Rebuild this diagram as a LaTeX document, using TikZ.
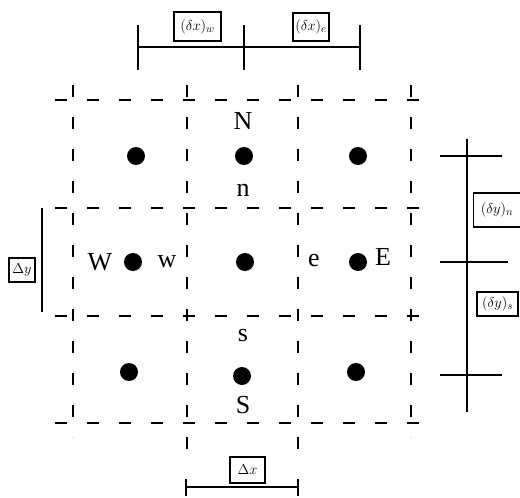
\documentclass[tikz,border=0pt]{standalone}
\usepackage{fontspec}
\setmainfont{Liberation Serif}
\usetikzlibrary{calc}
\begin{document}
\begin{tikzpicture}[x=1pt,y=-1pt,
  dot/.style={circle,fill=black,inner sep=0pt,minimum size=18pt},
  lbl/.style={font=\fontsize{26}{26}\selectfont,inner sep=0pt},
  gridline/.style={dash pattern=on 12pt off 20pt,line width=1.5pt},
  dim/.style={line width=1.8pt},
  dbox/.style={draw,line width=1.5pt,inner sep=0pt,font=\fontsize{15}{15}\selectfont},
]
\useasboundingbox (0,0) rectangle (520,498);
% grid coordinates
\coordinate (v1t) at (73,85);  \coordinate (v1b) at (73,437);
\coordinate (v2t) at (187,85); \coordinate (v2b) at (187,460);
\coordinate (v3t) at (298,85); \coordinate (v3b) at (298,460);
\coordinate (v4t) at (411,85); \coordinate (v4b) at (411,437);
\coordinate (h1l) at (55,100); \coordinate (h1r) at (429,100);
\coordinate (h2l) at (55,208); \coordinate (h2r) at (429,208);
\coordinate (h3l) at (55,316); \coordinate (h3r) at (429,316);
\coordinate (h4l) at (55,423); \coordinate (h4r) at (429,423);
\foreach \a/\b in {v1t/v1b,v2t/v2b,v3t/v3b,v4t/v4b,h1l/h1r,h2l/h2r,h3l/h3r,h4l/h4r}
  \draw[gridline] (\a) -- (\b);
% dots
\node[dot] (NW) at (136,156) {};
\node[dot] (Nd) at (244,156) {};
\node[dot] (NE) at (358,156) {};
\node[dot] (Wd) at (133,262) {};
\node[dot] (P)  at (245,262) {};
\node[dot] (Ed) at (358,262) {};
\node[dot] (SW) at (129,372) {};
\node[dot] (Sd) at (242,376) {};
\node[dot] (SE) at (356,372) {};
% letters
\node[lbl] (N) at (243,121) {N};
\node[lbl] (n) at (243,190) {n};
\node[lbl] (W) at (100,262) {W};
\node[lbl] (w) at (167,262) {w};
\node[lbl] (e) at (314,260) {e};
\node[lbl] (E) at (383,257) {E};
\node[lbl] (s) at (243,335) {s};
\node[lbl] (S) at (243,405) {S};
% top dimension
\coordinate (tA) at (138,47); \coordinate (tB) at (244,47); \coordinate (tC) at (360,47);
\draw[dim] (tA) -- (tC);
\foreach \p in {tA,tB,tC} \draw[dim] ($(\p)+(0,-22)$) -- ($(\p)+(0,23)$);
\node[dbox,minimum width=47pt,minimum height=29pt] (dxw) at (197.5,26.5) {$(\delta x)_w$};
\node[dbox,minimum width=36pt,minimum height=28pt] (dxe) at (311,27) {$(\delta x)_e$};
% right dimension
\coordinate (rA) at (467,139); \coordinate (rB) at (467,412);
\draw[dim] (rA) -- (rB);
\coordinate (r1) at (467,156); \coordinate (r2) at (467,262); \coordinate (r3) at (467,375);
\draw[dim] ($(r1)+(-27,0)$) -- ($(r1)+(35,0)$);
\draw[dim] ($(r2)+(-27,0)$) -- ($(r2)+(41,0)$);
\draw[dim] ($(r3)+(-27,0)$) -- ($(r3)+(35,0)$);
\node[dbox,minimum width=47pt,minimum height=34pt] (dyn) at (497,210) {$(\delta y)_n$};
\node[dbox,minimum width=41pt,minimum height=24pt] (dys) at (497.5,304) {$(\delta y)_s$};
% left dimension
\coordinate (lA) at (42,208); \coordinate (lB) at (42,312);
\draw[dim] (lA) -- (lB);
\node[dbox,minimum width=26pt,minimum height=24pt] (Dy) at (22,270) {$\Delta y$};
% bottom dimension
\coordinate (bA) at (186,487); \coordinate (bB) at (298,487);
\draw[dim] (bA) -- (bB);
\foreach \p in {bA,bB} \draw[dim] ($(\p)+(0,-8)$) -- ($(\p)+(0,9)$);
\node[dbox,minimum width=35pt,minimum height=26pt] (Dx) at (247.5,470) {$\Delta x$};
\end{tikzpicture}
\end{document}
